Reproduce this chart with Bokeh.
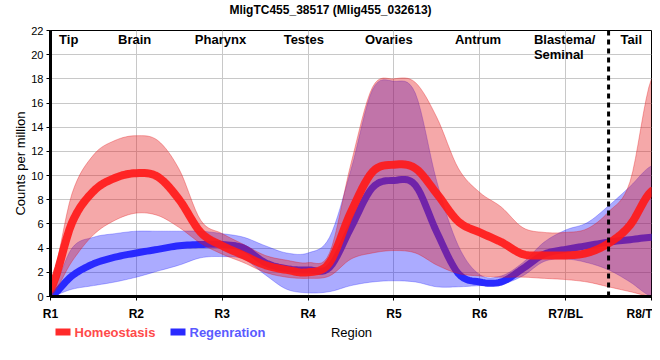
from bokeh.plotting import figure
from bokeh.layouts import column
from bokeh.models import FixedTicker, Span, Range1d
from bokeh.core.properties import value
from bokeh.embed import file_html
from bokeh.resources import INLINE

# ---------------- data ----------------
title_text = "MligTC455_38517 (Mlig455_032613)"
tick_labels = ["R1", "R2", "R3", "R4", "R5", "R6", "R7/BL", "R8/T"]
regions = ["Tip", "Brain", "Pharynx", "Testes", "Ovaries", "Antrum", "Blastema/\nSeminal", "Tail"]
region_x = [0.1, 0.98, 1.98, 2.95, 3.94, 4.98, 5.63, 6.64]
region_align = ["left", "center", "center", "center", "center", "center", "left", "left"]
series_names = ["Homeostasis", "Regenration"]

pos = [0.0, 0.25, 0.5, 0.75, 1.0, 1.25, 1.5, 1.75, 2.0, 2.25, 2.5, 2.75, 3.0, 3.25, 3.5,
       3.75, 4.0, 4.25, 4.5, 4.75, 5.0, 5.25, 5.5, 5.75, 6.0, 6.25, 6.5, 6.75, 7.0]

homeo_mean = [0.6, 6.1, 8.7, 9.8, 10.2, 9.9, 8.0, 5.3, 4.2, 3.4, 2.6, 2.2, 2.0, 2.8, 7.0,
              10.3, 10.9, 10.6, 8.5, 6.2, 5.3, 4.5, 3.5, 3.4, 3.4, 3.6, 4.4, 5.9, 8.7]
homeo_hi = [1.0, 8.5, 11.7, 12.9, 13.3, 12.9, 10.5, 6.3, 5.2, 4.3, 3.4, 3.0, 2.8, 3.6, 11.0,
            17.3, 18.0, 17.7, 14.8, 10.6, 8.6, 7.4, 5.7, 5.3, 5.3, 5.6, 7.0, 9.5, 18.0]
homeo_lo = [0.0, 2.9, 5.1, 6.3, 6.9, 6.7, 5.7, 4.4, 3.5, 2.8, 2.0, 1.6, 1.5, 1.7, 3.1,
            3.6, 3.8, 3.6, 2.6, 1.9, 1.7, 1.6, 1.6, 1.5, 1.4, 1.2, 0.8, 0.4, 0.0]

regen_mean = [0.0, 1.7, 2.7, 3.25, 3.6, 3.9, 4.2, 4.3, 4.3, 4.0, 2.8, 2.3, 2.2, 2.4, 5.7,
              9.0, 9.6, 9.2, 5.3, 1.9, 1.2, 1.2, 2.3, 3.5, 3.9, 4.2, 4.5, 4.7, 4.9]
regen_hi = [0.2, 4.0, 4.9, 5.2, 5.4, 5.4, 5.4, 5.4, 5.2, 4.9, 4.2, 3.6, 3.6, 4.9, 10.5,
            17.1, 17.8, 16.8, 9.5, 4.2, 1.8, 1.7, 2.8, 4.5, 5.5, 6.1, 7.5, 9.1, 10.8]
regen_lo = [0.0, 0.6, 0.9, 1.2, 1.6, 2.1, 2.6, 3.2, 3.3, 3.1, 1.8, 0.6, 0.3, 0.4, 0.9,
            1.2, 1.3, 1.2, 0.8, 0.8, 0.9, 1.0, 1.7, 2.9, 3.1, 2.8, 2.2, 1.2, 0.0]

divider_x = 6.5


# smooth rendering path through the read points (Catmull-Rom), like the original's smoothed curves
def smooth(xs, ys, n=8):
    ox, oy = [], []
    N = len(xs)
    for i in range(N - 1):
        p0 = ys[i - 1] if i > 0 else ys[i]
        p1, p2 = ys[i], ys[i + 1]
        p3 = ys[i + 2] if i + 2 < N else ys[i + 1]
        for k in range(n):
            t = k / n
            y = 0.5 * (2 * p1 + (-p0 + p2) * t + (2 * p0 - 5 * p1 + 4 * p2 - p3) * t * t
                       + (-p0 + 3 * p1 - 3 * p2 + p3) * t ** 3)
            ox.append(xs[i] + t * (xs[i + 1] - xs[i]))
            oy.append(y)
    ox.append(xs[-1])
    oy.append(ys[-1])
    return ox, oy


FONT = "Liberation Sans"
W = 652
FRAME_L, FRAME_R = 50, 651


def strip(h):
    # frames in a column are aligned with the main frame, so map x to page pixels
    f = figure(width=W, height=h, output_backend="svg", toolbar_location=None,
               x_range=Range1d(FRAME_L, FRAME_R), y_range=Range1d(h, 0),
               x_axis_type=None, y_axis_type=None, min_border=0)
    f.outline_line_color = None
    f.grid.visible = False
    f.background_fill_color = "white"
    f.border_fill_color = "white"
    return f


# ---------------- top strip: title ----------------
t = strip(24)
t.text(x=[330], y=[9], text=[title_text], text_align="center", text_baseline="middle",
       text_font=value(FONT), text_font_size="12px", text_font_style="bold",
       text_color="black")

# ---------------- main figure ----------------
p = figure(width=W, height=298, frame_width=601, frame_height=266,
           output_backend="svg", toolbar_location=None,
           x_range=Range1d(0, 7), y_range=Range1d(0, 22),
           min_border_left=50, min_border_right=1, min_border_top=6, min_border_bottom=26)

p.background_fill_color = "white"
p.border_fill_color = "white"
p.outline_line_color = "black"
p.outline_line_width = 1

p.xaxis.ticker = FixedTicker(ticks=list(range(len(tick_labels))))
p.xaxis.major_label_overrides = {i: lab for i, lab in enumerate(tick_labels)}
p.yaxis.ticker = FixedTicker(ticks=list(range(0, 23, 2)))
for ax in (p.xaxis[0], p.yaxis[0]):
    ax.axis_line_width = 3
    ax.axis_line_color = "black"
    ax.major_tick_line_color = "black"
    ax.major_tick_line_width = 1
    ax.major_tick_out = 4
    ax.major_tick_in = 0
    ax.minor_tick_line_color = None
    ax.major_label_text_font = FONT
    ax.major_label_text_color = "black"
    ax.axis_label_text_font = FONT
    ax.axis_label_text_font_style = "normal"
    ax.axis_label_text_font_size = "13px"
    ax.axis_label_text_color = "black"

p.xaxis.major_label_text_font_size = "12px"
p.xaxis.major_label_text_font_style = "bold"
p.xaxis.major_label_standoff = 6
p.yaxis.major_label_text_font_size = "11px"
p.yaxis.major_label_standoff = 3
p.yaxis.axis_label = "Counts per million"
p.yaxis.axis_label_standoff = 0

p.xgrid.ticker = FixedTicker(ticks=list(range(len(tick_labels))))
p.ygrid.ticker = FixedTicker(ticks=list(range(0, 23, 2)))
p.grid.grid_line_color = "#c8c8c8"
p.grid.grid_line_width = 1

RED = "#e41a1c"
BLUE = "#0000ff"

sx, rlo = smooth(pos, regen_lo)
_, rhi = smooth(pos, regen_hi)
_, rmn = smooth(pos, regen_mean)
_, hlo = smooth(pos, homeo_lo)
_, hhi = smooth(pos, homeo_hi)
_, hmn = smooth(pos, homeo_mean)

p.varea(x=sx, y1=rlo, y2=rhi, fill_color=BLUE, fill_alpha=0.33)
p.line(sx, rhi, line_color=BLUE, line_alpha=0.25, line_width=1)
p.line(sx, rlo, line_color=BLUE, line_alpha=0.25, line_width=1)
p.line(sx, rmn, line_color="#2222ff", line_width=7, line_alpha=0.95,
       line_join="round", line_cap="round")

p.varea(x=sx, y1=hlo, y2=hhi, fill_color=RED, fill_alpha=0.38)
p.line(sx, hhi, line_color=RED, line_alpha=0.35, line_width=1)
p.line(sx, hlo, line_color=RED, line_alpha=0.35, line_width=1)
p.line(sx, hmn, line_color="#ff1a1a", line_width=8, line_alpha=0.92,
       line_join="round", line_cap="round")

p.add_layout(Span(location=divider_x, dimension="height", line_color="black",
                  line_width=3, line_dash="5 4"))

# region names: one glyph per text line, 9px and 24px below the frame top
lx, ly, lt, la = [], [], [], []
for rx, name, al in zip(region_x, regions, region_align):
    for j, part in enumerate(name.split("\n")):
        lx.append(rx)
        ly.append(22 - (9 + 15 * j) / 12.09)
        lt.append(part)
        la.append(al)
p.text(x=lx, y=ly, text=lt, text_align=la, text_baseline="middle",
       text_font=value(FONT), text_font_size="13px", text_font_style="bold",
       text_color="black")

# ---------------- bottom strip: legend + x-axis title ----------------
s = strip(30)
s.quad(left=[55, 170], right=[70, 185], top=[5, 5], bottom=[12, 12],
       fill_color=["#ff2a2a", "#2a2aff"], line_color=None)
s.text(x=[74, 189], y=[8.5, 8.5], text=series_names, text_baseline="middle",
       text_align="left", text_font=value(FONT), text_font_size="13px",
       text_font_style="bold", text_color=["#ff4a4a", "#5a5aff"])
s.text(x=[351], y=[8.5], text=["Region"], text_baseline="middle", text_align="center",
       text_font=value(FONT), text_font_size="13px", text_color="black")

open("out.html", "w").write(file_html(column(t, p, s, spacing=0), INLINE))
